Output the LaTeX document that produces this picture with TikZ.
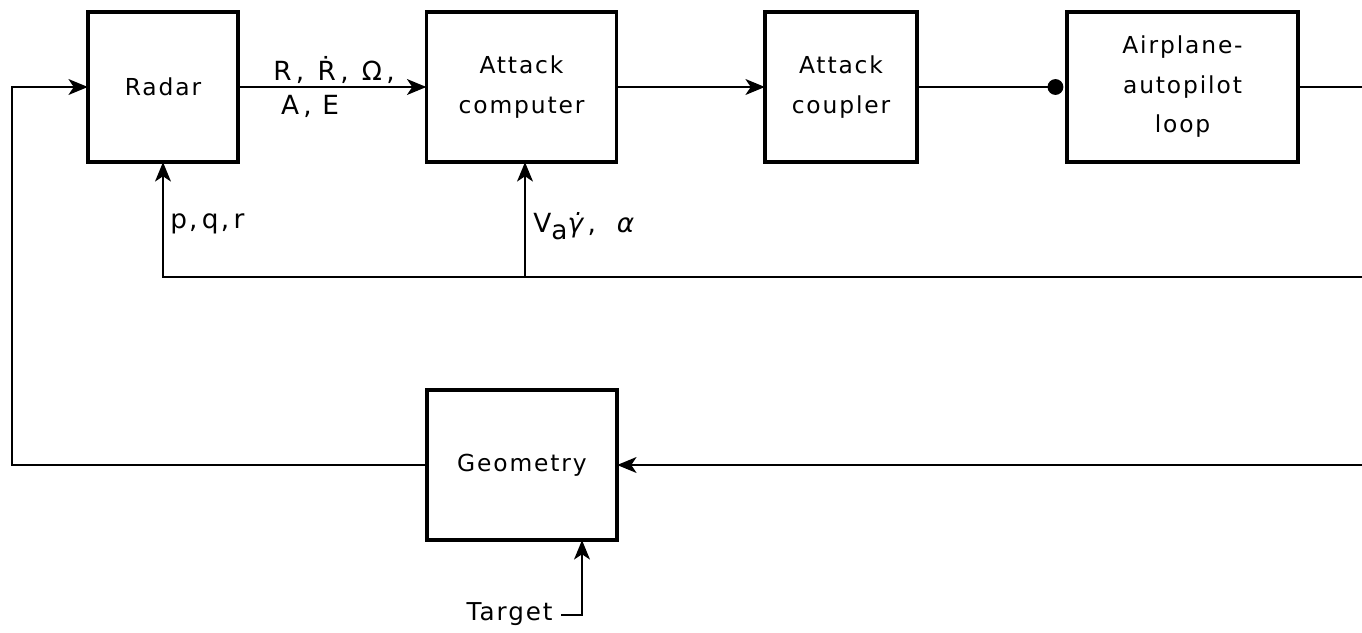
\documentclass[tikz,border=0pt]{standalone}
\usepackage{fontspec}
\setsansfont[LetterSpace=8]{DejaVu Sans}
\newfontfamily\grk{DejaVu Sans}
\usetikzlibrary{arrows.meta}
\begin{document}
\begin{tikzpicture}[x=0.02cm,y=-0.02cm,
  blk/.style={draw,line width=2.2pt,minimum width=3cm,minimum height=3cm,inner sep=0pt,align=center,
     font=\sffamily\fontsize{13.3}{22.5}\selectfont},
  lbl/.style={inner sep=0pt,font=\sffamily\fontsize{15}{17}\selectfont},
  wire/.style={line width=1.4pt},
  arr/.style={wire,shorten >=-1pt,-{Stealth[length=11pt,width=9pt,inset=3pt]}},
  dotarr/.style={wire,-{Circle[length=9pt,width=9pt]}}]
\useasboundingbox (0,0) rectangle (1362,632);
\node[blk] (radar) at (163,87) {Radar};
\node[blk,minimum width=3.8cm] (ac) at (521.5,87) {Attack\\computer};
\node[blk,minimum width=3.04cm] (cp) at (841,87) {Attack\\coupler};
\node[blk,minimum width=4.62cm] (ap) at (1182.5,87) {Airplane-\\autopilot\\loop};
\node[blk,minimum width=3.8cm] (geo) at (522,465) {Geometry};
% coordinates
\coordinate (rightout) at (1362,87);
\coordinate (fbr) at (1362,277);
\coordinate (fbl) at (163,277);
\coordinate (fbm) at (525,277);
\coordinate (gin) at (1362,465);
\coordinate (lb) at (12,465);
\coordinate (lt) at (12,87);
\coordinate (tc) at (582,615);
% connectors
\draw[arr] (radar.east) -- (ac.west);
\draw[arr] (ac.east) -- (cp.west);
\draw[dotarr] (cp.east) -- ([xshift=-1pt]ap.west);
\draw[wire] (ap.east) -- (rightout);
\draw[arr] (fbr) -- (fbl) -- (radar.south);
\draw[arr] (fbm) -- (fbm |- ac.south);
\draw[arr] (gin) -- (geo.east);
\draw[arr] (geo.west) -- (lb) -- (lt) -- (radar.west);
\node[lbl,anchor=east,font=\sffamily\fontsize{14}{16}\selectfont] (tgt) at (553,614) {Target};
\coordinate (tl) at (561,615);
\draw[arr] (tl) -- (tc) -- (tc |- geo.south);
% labels
\node[lbl] (l1) at (334,70) {R\,,\enspace\.{R}\,,\enspace Ω\,,};
\node[lbl] (l2) at (310,106) {A\,,\ E};
\node[lbl,anchor=west] (l3) at (170,224) {p,\,q,\,r};
\node[lbl,anchor=west] (l4) at (533,226) {V\raisebox{-0.45ex}{a}{\grk\itshape γ̇}\,,\ \ {\grk\itshape α}};
\end{tikzpicture}
\end{document}
